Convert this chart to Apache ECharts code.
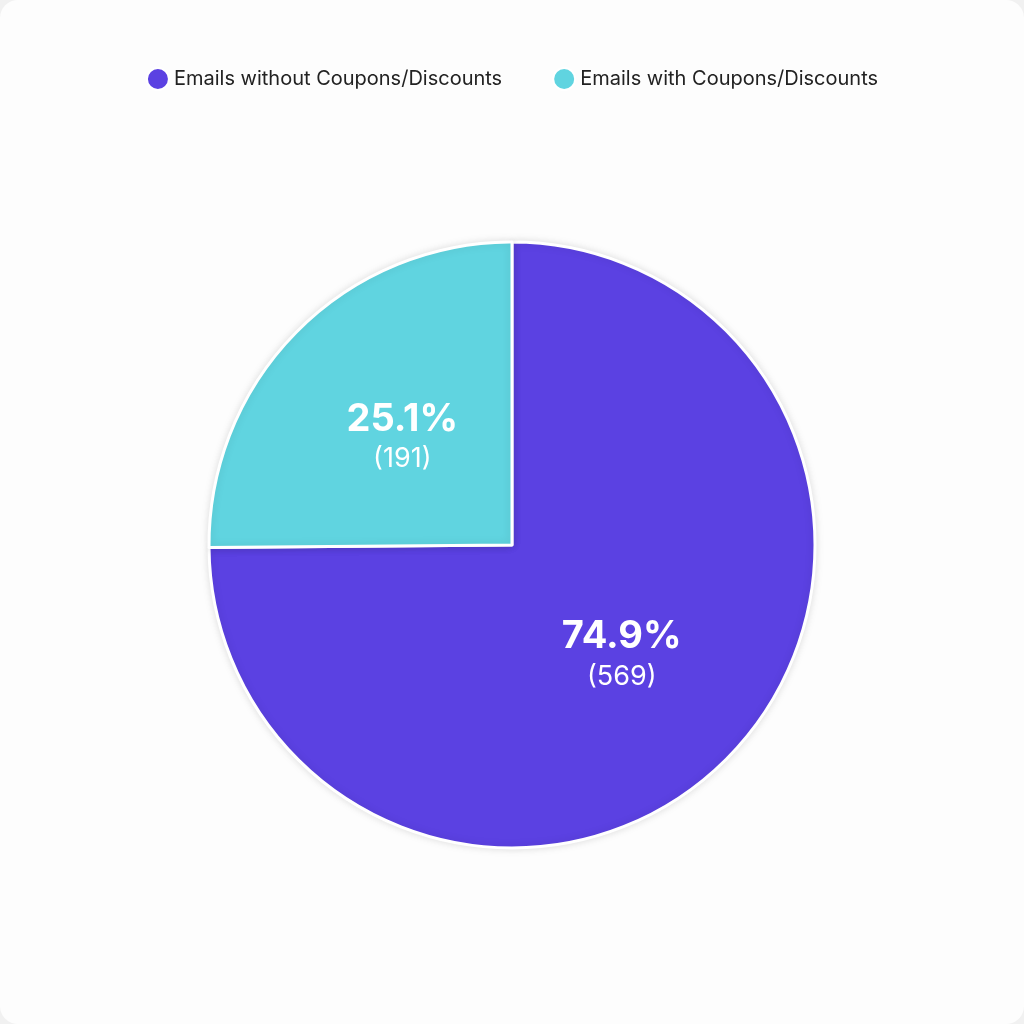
<!DOCTYPE html>
<html>
<head>
<meta charset="utf-8">
<script src="https://cdn.jsdelivr.net/npm/echarts@6/dist/echarts.min.js"></script>
<style>
  html, body { margin: 0; padding: 0; background: #f1f1f1; }
  #chart { width: 1024px; height: 1024px; background: #fdfdfd; border-radius: 18px; }
</style>
</head>
<body>
<div id="chart"></div>
<script>
const categories = ['Emails without Coupons/Discounts', 'Emails with Coupons/Discounts'];
const counts = [569, 191];
const percents = ['74.9%', '25.1%'];
const colors = ['#5b41e2', '#60d4e0'];

const chart = echarts.init(document.getElementById('chart'));
chart.setOption({
    legend: {
        top: 62,
        left: 'center',
        icon: 'circle',
        itemWidth: 22,
        itemHeight: 22,
        itemGap: 50,
        textStyle: { fontFamily: 'Inter', fontSize: 20, color: '#222' },
        data: categories
    },
    series: [{
        type: 'pie',
        center: [512, 545],
        radius: 303,
        startAngle: 90,
        clockwise: true,
        itemStyle: {
            borderColor: '#fff',
            borderWidth: 3,
            shadowBlur: 8,
            shadowColor: 'rgba(0,0,0,0.12)'
        },
        label: {
            position: 'inside',
            formatter: p => '{a|' + percents[p.dataIndex] + '}\n{b|(' + p.value + ')}',
            rich: {
                a: { fontFamily: 'Inter', fontWeight: 'bold', fontSize: 38, color: '#fff', lineHeight: 46 },
                b: { fontFamily: 'Inter', fontSize: 27, color: '#fff', lineHeight: 34 }
            }
        },
        labelLine: { show: false },
        data: categories.map((c, i) => ({ name: c, value: counts[i], itemStyle: { color: colors[i] } }))
    }]
});
</script>
</body>
</html>
